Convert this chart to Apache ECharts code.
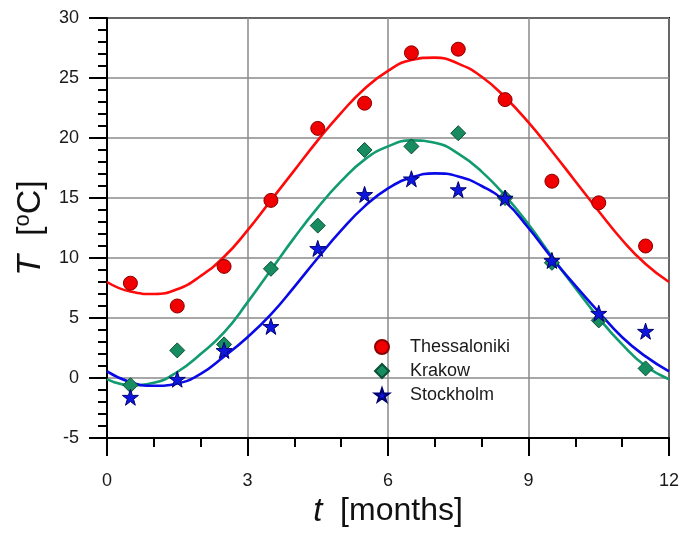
<!DOCTYPE html>
<html><head><meta charset="utf-8">
<script src="https://cdn.jsdelivr.net/npm/echarts@6/dist/echarts.min.js"></script>
<style>html,body{margin:0;padding:0;background:#fff}#c{width:682px;height:535px}</style>
</head><body><div id="c"></div>
<script>
// Measured monthly means
const months = [0.5, 1.5, 2.5, 3.5, 4.5, 5.5, 6.5, 7.5, 8.5, 9.5, 10.5, 11.5];
const thessaloniki = [7.9, 6.0, 9.3, 14.8, 20.8, 22.9, 27.1, 27.4, 23.2, 16.4, 14.6, 11.0];
const krakow = [-0.6, 2.3, 2.8, 9.1, 12.7, 19.0, 19.3, 20.4, 15.0, 9.6, 4.8, 0.8];
const stockholm = [-1.6, -0.1, 2.3, 4.3, 10.8, 15.3, 16.6, 15.7, 15.0, 9.8, 5.4, 3.9];
// Fitted curves
const fitT = [0, 0.5, 1, 1.5, 2, 2.5, 3, 3.5, 4, 4.5, 5, 5.5, 6, 6.5, 7, 7.5, 8, 8.5, 9, 9.5, 10, 10.5, 11, 11.5, 12];
const thessalonikiFit = [8.0, 7.2, 7.0, 7.4, 8.5, 10.1, 12.3, 14.8, 17.3, 19.8, 22.1, 24.1, 25.6, 26.5, 26.7, 26.2, 25.1, 23.4, 21.3, 18.9, 16.4, 13.9, 11.5, 9.5, 8.0];
const krakowFit = [-0.1, -0.6, -0.4, 0.5, 2.0, 3.8, 6.3, 9.0, 11.7, 14.2, 16.4, 18.2, 19.3, 19.8, 19.6, 18.7, 17.2, 15.2, 12.8, 10.1, 7.5, 5.0, 2.8, 1.0, -0.1];
const stockholmFit = [0.55, -0.35, -0.65, -0.45, 0.35, 1.8, 3.4, 5.3, 7.6, 10.0, 12.3, 14.3, 15.8, 16.7, 17.05, 16.8, 16.0, 14.7, 12.5, 10.0, 7.7, 5.5, 3.4, 1.8, 0.55];
const seriesNames = ['Thessaloniki', 'Krakow', 'Stockholm'];
const xTickValues = [0, 3, 6, 9, 12];
const yTickValues = [-5, 0, 5, 10, 15, 20, 25, 30];

const pair = (xs, ys) => xs.map((x, i) => [x, ys[i]]);
const FONT = 'Liberation Sans, Arial, sans-serif';
const STAR = 'path://M50,0 L61.8,35.1 L98.1,35.1 L68.8,56.7 L79.4,90.5 L50,69.6 L20.6,90.5 L31.2,56.7 L1.9,35.1 L38.2,35.1 Z';

const chart = echarts.init(document.getElementById('c'), null, {renderer: 'canvas'});
const axisCommon = {
  axisLine: {show: true, onZero: false, lineStyle: {color: '#000', width: 2}},
  axisTick: {show: true, inside: false, length: 18, lineStyle: {color: '#000', width: 2}},
  splitLine: {show: true, lineStyle: {color: '#8a8a8a', width: 1.5}},
  minorSplitLine: {show: false}
};
chart.setOption({
  animation: false,
  backgroundColor: '#fff',
  grid: {left: 107, right: 13, top: 18, bottom: 97, show: true, borderColor: '#000', borderWidth: 2, containLabel: false, outerBoundsMode: 'none'},
  xAxis: Object.assign({
    type: 'value', min: xTickValues[0], max: xTickValues[xTickValues.length - 1], interval: 3,
    axisLabel: {fontSize: 18, color: '#1a1a1a', fontFamily: FONT, margin: 34},
    name: '{i|t}{n|  [months]}', nameLocation: 'middle', nameGap: 57,
    nameTextStyle: {fontFamily: FONT, color: '#111', rich: {
      i: {fontSize: 33, fontStyle: 'italic', fontFamily: FONT, color: '#111'},
      n: {fontSize: 32, fontFamily: FONT, color: '#111'}
    }}
  }, axisCommon, {minorTick: {show: true, splitNumber: 3, length: 9, lineStyle: {color: '#000', width: 2}}}),
  yAxis: Object.assign({
    type: 'value', min: yTickValues[0], max: yTickValues[yTickValues.length - 1], interval: 5,
    axisLabel: {fontSize: 18, color: '#1a1a1a', fontFamily: FONT, margin: 28},
    name: '{i|T}{n|  [}{s|o}{n|C]}', nameLocation: 'middle', nameGap: 57, nameRotate: 90,
    nameTextStyle: {fontFamily: FONT, color: '#111', rich: {
      i: {fontSize: 34, fontStyle: 'italic', fontFamily: FONT, color: '#111', lineHeight: 38},
      n: {fontSize: 34, fontFamily: FONT, color: '#111', lineHeight: 38},
      s: {fontSize: 22, fontFamily: FONT, color: '#111', verticalAlign: 'top', lineHeight: 38, padding: [0, 0, 14, 0]}
    }}
  }, axisCommon, {minorTick: {show: true, splitNumber: 5, length: 9, lineStyle: {color: '#000', width: 2}}}),
  legend: {
    orient: 'vertical', left: 374, top: 338, padding: 0, itemWidth: 14, itemHeight: 14, itemGap: 6,
    data: seriesNames,
    textStyle: {fontSize: 18, color: '#1a1a1a', fontFamily: FONT, padding: [0, 0, 0, 16]}
  },
  series: [
    {name: 'fitT', type: 'line', smooth: true, showSymbol: false, data: pair(fitT, thessalonikiFit), lineStyle: {color: '#ff0a0a', width: 2.6}, itemStyle: {color: '#ff0a0a'}, z: 2},
    {name: 'fitK', type: 'line', smooth: true, showSymbol: false, data: pair(fitT, krakowFit), lineStyle: {color: '#129b70', width: 2.6}, itemStyle: {color: '#129b70'}, z: 2},
    {name: 'fitS', type: 'line', smooth: true, showSymbol: false, data: pair(fitT, stockholmFit), lineStyle: {color: '#0a0ae6', width: 2.6}, itemStyle: {color: '#0a0ae6'}, z: 2},
    {name: seriesNames[0], type: 'scatter', symbol: 'circle', symbolSize: 14, data: pair(months, thessaloniki), itemStyle: {color: '#f00000', borderColor: '#8a0000', borderWidth: 1, opacity: 1}, z: 5},
    {name: seriesNames[1], type: 'scatter', symbol: 'diamond', symbolSize: 15, data: pair(months, krakow), itemStyle: {color: '#168c60', borderColor: '#0b4f35', borderWidth: 1, opacity: 1}, z: 5},
    {name: seriesNames[2], type: 'scatter', symbol: STAR, symbolSize: 16, data: pair(months, stockholm), itemStyle: {color: '#0c16dc', borderColor: '#000070', borderWidth: 1, opacity: 1}, z: 5}
  ]
});
</script></body></html>
